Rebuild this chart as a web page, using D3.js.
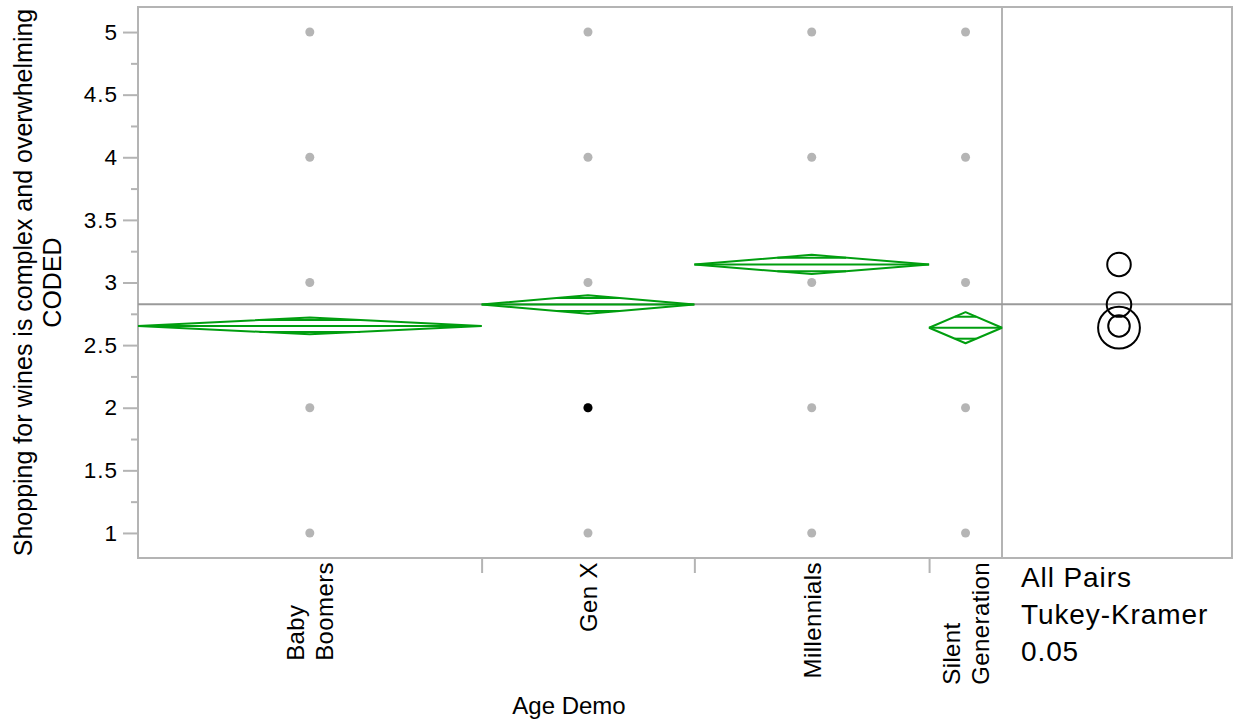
<!DOCTYPE html>
<html><head><meta charset="utf-8">
<script src="https://cdn.jsdelivr.net/npm/d3@7"></script>
<style>
body{margin:0;background:#fff}
text{font-family:"Liberation Sans",Arial,Helvetica,sans-serif;fill:#000}
</style>
</head><body><svg id="c" width="1235" height="721"></svg>
<script>
// ---- data ----
const categories = ["Baby Boomers", "Gen X", "Millennials", "Silent Generation"];
const categoryLines = [["Baby", "Boomers"], ["Gen X"], ["Millennials"], ["Silent", "Generation"]];
const groupN = [344, 213, 235, 73];
const groupMeans = [2.653, 2.824, 3.144, 2.639];
const ciHalf = [0.067, 0.074, 0.077, 0.124];
const circleRadius = [0.086, 0.098, 0.094, 0.167];
const grandMean = 2.826;
const responseLevels = [1, 2, 3, 4, 5];
const highlightedGroup = ["Gen X"];
const highlightedValue = [2];
const yTicks = [1, 1.5, 2, 2.5, 3, 3.5, 4, 4.5, 5];
const yMinorTicks = [1.25, 1.75, 2.25, 2.75, 3.25, 3.75, 4.25, 4.75];
const yTitleLines = ["Shopping for wines is complex and overwhelming", "CODED"];
const xTitle = "Age Demo";
const testLines = ["All Pairs", "Tukey-Kramer", "0.05"];

// ---- layout ----
const L = 138, R = 1002, T = 7, B = 558, R2 = 1232;
const svg = d3.select("#c");
const GREEN = "#009e0f", FRAME = "#b4b4b4";

const y = d3.scaleLinear().domain([0.8, 5.2]).range([B, T]);
const cum = [0];
groupN.forEach(n => cum.push(cum[cum.length - 1] + n));
const x = d3.scaleLinear().domain([0, cum[cum.length - 1]]).range([L, R]);
const groups = categories.map((c, i) => ({
  name: c, lines: categoryLines[i], x0: x(cum[i]), x1: x(cum[i + 1]),
  xc: (x(cum[i]) + x(cum[i + 1])) / 2, mean: groupMeans[i], half: ciHalf[i], r: circleRadius[i]
}));

// frames
svg.append("rect").attr("x", L).attr("y", T).attr("width", R - L).attr("height", B - T)
  .attr("fill", "none").attr("stroke", FRAME).attr("stroke-width", 2);
svg.append("rect").attr("x", R).attr("y", T).attr("width", R2 - R).attr("height", B - T)
  .attr("fill", "none").attr("stroke", FRAME).attr("stroke-width", 2);

// y axis
const yAxis = svg.append("g").attr("transform", `translate(${L - 1},0)`)
  .call(d3.axisLeft(y).tickValues(yTicks).tickSize(14).tickPadding(5).tickFormat(d3.format("")));
yAxis.select(".domain").remove();
yAxis.selectAll("line").attr("stroke", FRAME).attr("stroke-width", 2);
yAxis.selectAll("text").style("font-size", "22.5px").attr("letter-spacing", "1px");
const yMinor = svg.append("g").attr("transform", `translate(${L - 1},0)`)
  .call(d3.axisLeft(y).tickValues(yMinorTicks).tickSize(6).tickFormat(""));
yMinor.select(".domain").remove();
yMinor.selectAll("line").attr("stroke", FRAME).attr("stroke-width", 2);

// x axis boundary ticks
const xAxis = svg.append("g").attr("transform", `translate(0,${B + 1})`)
  .call(d3.axisBottom(x).tickValues(cum.slice(1, -1)).tickSize(14).tickFormat(""));
xAxis.select(".domain").remove();
xAxis.selectAll("line").attr("stroke", FRAME).attr("stroke-width", 2);

// x category labels (rotated, block top at ~562, lines start-aligned)
groups.forEach(g => {
  const lh = 29;
  const n = g.lines.length;
  const gg = svg.append("g");
  const texts = g.lines.map((t, k) => gg.append("text").text(t).style("font-size", "24px").attr("letter-spacing", "0.4px"));
  const maxW = d3.max(texts, t => t.node().getComputedTextLength());
  texts.forEach((t, k) => {
    const bx = g.xc + 9 - (n - 1 - k) * lh + (n - 1) * lh / 2;
    const by = 562 + maxW;
    t.attr("transform", `translate(${bx},${by}) rotate(-90)`);
  });
});

// x title
svg.append("text").attr("x", 569).attr("y", 714).attr("text-anchor", "middle")
  .style("font-size", "24px").text(xTitle);

// y title
yTitleLines.forEach((t, k) => {
  svg.append("text").attr("transform", `translate(${32 + k * 29},${(T + B) / 2}) rotate(-90)`)
    .attr("text-anchor", "middle").style("font-size", "25px").text(t);
});

// grey points
const pts = [];
groups.forEach(g => responseLevels.forEach(v => pts.push({ g, v })));
svg.append("g").selectAll("circle").data(pts).join("circle")
  .attr("cx", d => d.g.xc).attr("cy", d => y(d.v)).attr("r", 4.5).attr("fill", "#b5b5b5");

// grand mean line
svg.append("line").attr("x1", L).attr("x2", R2).attr("y1", y(grandMean)).attr("y2", y(grandMean))
  .attr("stroke", "#9a9a9a").attr("stroke-width", 2);

// means diamonds
const dg = svg.append("g").attr("fill", "none").attr("stroke", GREEN).attr("stroke-width", 2);
groups.forEach(g => {
  const ym = y(g.mean), yt = y(g.mean + g.half), yb = y(g.mean - g.half);
  dg.append("path").attr("d", `M${g.x0},${ym}L${g.xc},${yt}L${g.x1},${ym}L${g.xc},${yb}Z`)
    .attr("stroke-linejoin", "bevel");
  dg.append("line").attr("x1", g.x0).attr("x2", g.x1).attr("y1", ym).attr("y2", ym);
  const f = 1 / Math.SQRT2;
  const hw = (g.x1 - g.x0) / 2 * (1 - f);
  [1, -1].forEach(s => {
    const yy = y(g.mean + s * g.half * f);
    dg.append("line").attr("x1", g.xc - hw).attr("x2", g.xc + hw).attr("y1", yy).attr("y2", yy);
  });
});

// highlighted points
highlightedGroup.forEach((hg, i) => {
  const g = groups.find(d => d.name === hg);
  svg.append("circle").attr("cx", g.xc).attr("cy", y(highlightedValue[i])).attr("r", 4.5).attr("fill", "#000");
});

// comparison circles
const cx = (R + R2) / 2 + 2;
svg.append("g").selectAll("circle").data(groups).join("circle")
  .attr("cx", cx).attr("cy", d => y(d.mean)).attr("r", d => y(0) - y(d.r))
  .attr("fill", "none").attr("stroke", "#000").attr("stroke-width", 2);

// test text
testLines.forEach((t, k) => {
  svg.append("text").attr("x", 1021).attr("y", 587 + k * 37).style("font-size", "28px")
    .attr("letter-spacing", "0.9px").text(t);
});
</script>
</body></html>
